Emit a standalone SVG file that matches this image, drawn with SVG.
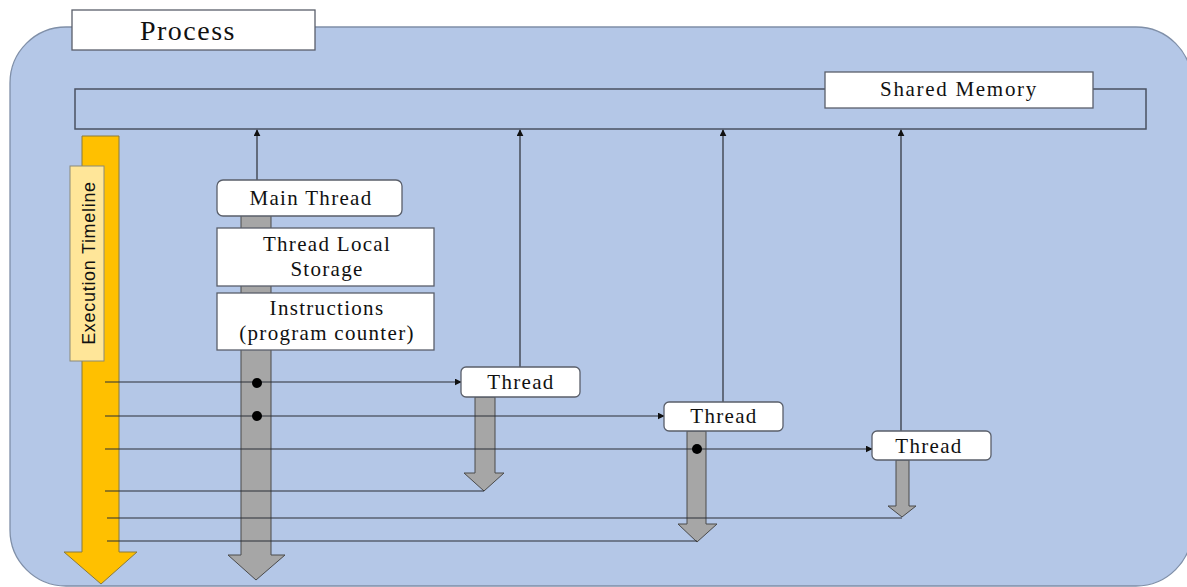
<svg xmlns="http://www.w3.org/2000/svg" width="1187" height="587" viewBox="0 0 1187 587">
<defs>
<style>
.serif{font-family:"Liberation Serif","Times New Roman",serif;fill:#111;text-anchor:middle;font-size:21px;letter-spacing:1.3px}
.box{fill:#fff;stroke:#5a5f6a;stroke-width:1.3}
.ln{stroke:#2a2e36;stroke-width:1.2;fill:none}
.gray{fill:#a6a6a6;stroke:#4a4a4a;stroke-width:1}
</style>
<marker id="ah" viewBox="0 0 10 10" refX="9" refY="5" markerWidth="7" markerHeight="7" markerUnits="userSpaceOnUse" orient="auto">
<path d="M0,0 L10,5 L0,10 z" fill="#111"/>
</marker>
</defs>
<rect id="bg" x="10" y="27" width="1182" height="559" rx="56" fill="#b4c7e7" stroke="#7f8fa8" stroke-width="1.3"/>

<g id="process">
<rect class="box" x="72" y="10" width="243" height="40"/>
<text class="serif" x="188" y="40" style="font-size:28px;letter-spacing:1.5px">Process</text>
</g>

<g id="shared-memory">
<rect x="75" y="89" width="1071" height="40" fill="none" stroke="#4a5262" stroke-width="1.5"/>
<rect class="box" x="825" y="72" width="268" height="36"/>
<text class="serif" x="959" y="96" style="letter-spacing:1.7px">Shared Memory</text>
</g>

<g id="timeline">
<path d="M82,136 H119 V552 H137 L101,584 L64,552 H82 Z" fill="#ffc000" stroke="#8a7a3a" stroke-width="1"/>
<rect x="70" y="166" width="34" height="195" fill="#ffe699" stroke="#8a8a7a" stroke-width="1"/>
<text x="0" y="0" transform="translate(95,263) rotate(-90)" font-family="'Liberation Sans',Arial,sans-serif" font-size="18" letter-spacing="0.7" fill="#111" text-anchor="middle">Execution Timeline</text>
</g>

<g id="main-thread-arrow">
<path class="gray" d="M241,212 H271 V555 H285 L256,580 L228,555 H241 Z"/>
</g>
<g id="thread1-arrow">
<path class="gray" d="M475,397 H495 V473 H504 L484,491 L464,473 H475 Z"/>
</g>
<g id="thread2-arrow">
<path class="gray" d="M687,431 H706 V524 H717 L697,542 L678,524 H687 Z"/>
</g>
<g id="thread3-arrow">
<path class="gray" d="M896,460 H909 V506 H916 L902,517 L888,506 H896 Z"/>
</g>

<g id="connectors">
<line class="ln" x1="257" y1="180" x2="257" y2="130" marker-end="url(#ah)"/>
<line class="ln" x1="520" y1="368" x2="520" y2="130" marker-end="url(#ah)"/>
<line class="ln" x1="723" y1="402" x2="723" y2="130" marker-end="url(#ah)"/>
<line class="ln" x1="901" y1="431" x2="901" y2="130" marker-end="url(#ah)"/>
<line class="ln" x1="105" y1="382" x2="461" y2="382" marker-end="url(#ah)"/>
<line class="ln" x1="105" y1="416" x2="664" y2="416" marker-end="url(#ah)"/>
<line class="ln" x1="105" y1="449" x2="872" y2="449" marker-end="url(#ah)"/>
<polyline class="ln" points="105,491 484,491"/>
<polyline class="ln" points="107,518 902,518"/>
<polyline class="ln" points="107,541 697,541"/>
<circle cx="257" cy="383" r="5" fill="#000"/>
<circle cx="257" cy="416" r="5" fill="#000"/>
<circle cx="697" cy="449" r="5" fill="#000"/>
</g>

<g id="main-thread">
<rect class="box" x="217" y="180" width="185" height="36" rx="6"/>
<text class="serif" x="311" y="205">Main Thread</text>
</g>
<g id="tls">
<rect class="box" x="217" y="228" width="217" height="58"/>
<text class="serif" x="327" y="251">Thread Local</text>
<text class="serif" x="327" y="276">Storage</text>
</g>
<g id="instructions">
<rect class="box" x="217" y="293" width="217" height="57"/>
<text class="serif" x="327" y="315">Instructions</text>
<text class="serif" x="327" y="340">(program counter)</text>
</g>
<g id="thread1">
<rect class="box" x="461" y="367" width="119" height="30" rx="5"/>
<text class="serif" x="521" y="389">Thread</text>
</g>
<g id="thread2">
<rect class="box" x="664" y="402" width="119" height="29" rx="5"/>
<text class="serif" x="724" y="423">Thread</text>
</g>
<g id="thread3">
<rect class="box" x="872" y="431" width="119" height="29" rx="5"/>
<text class="serif" x="929" y="453">Thread</text>
</g>
</svg>
